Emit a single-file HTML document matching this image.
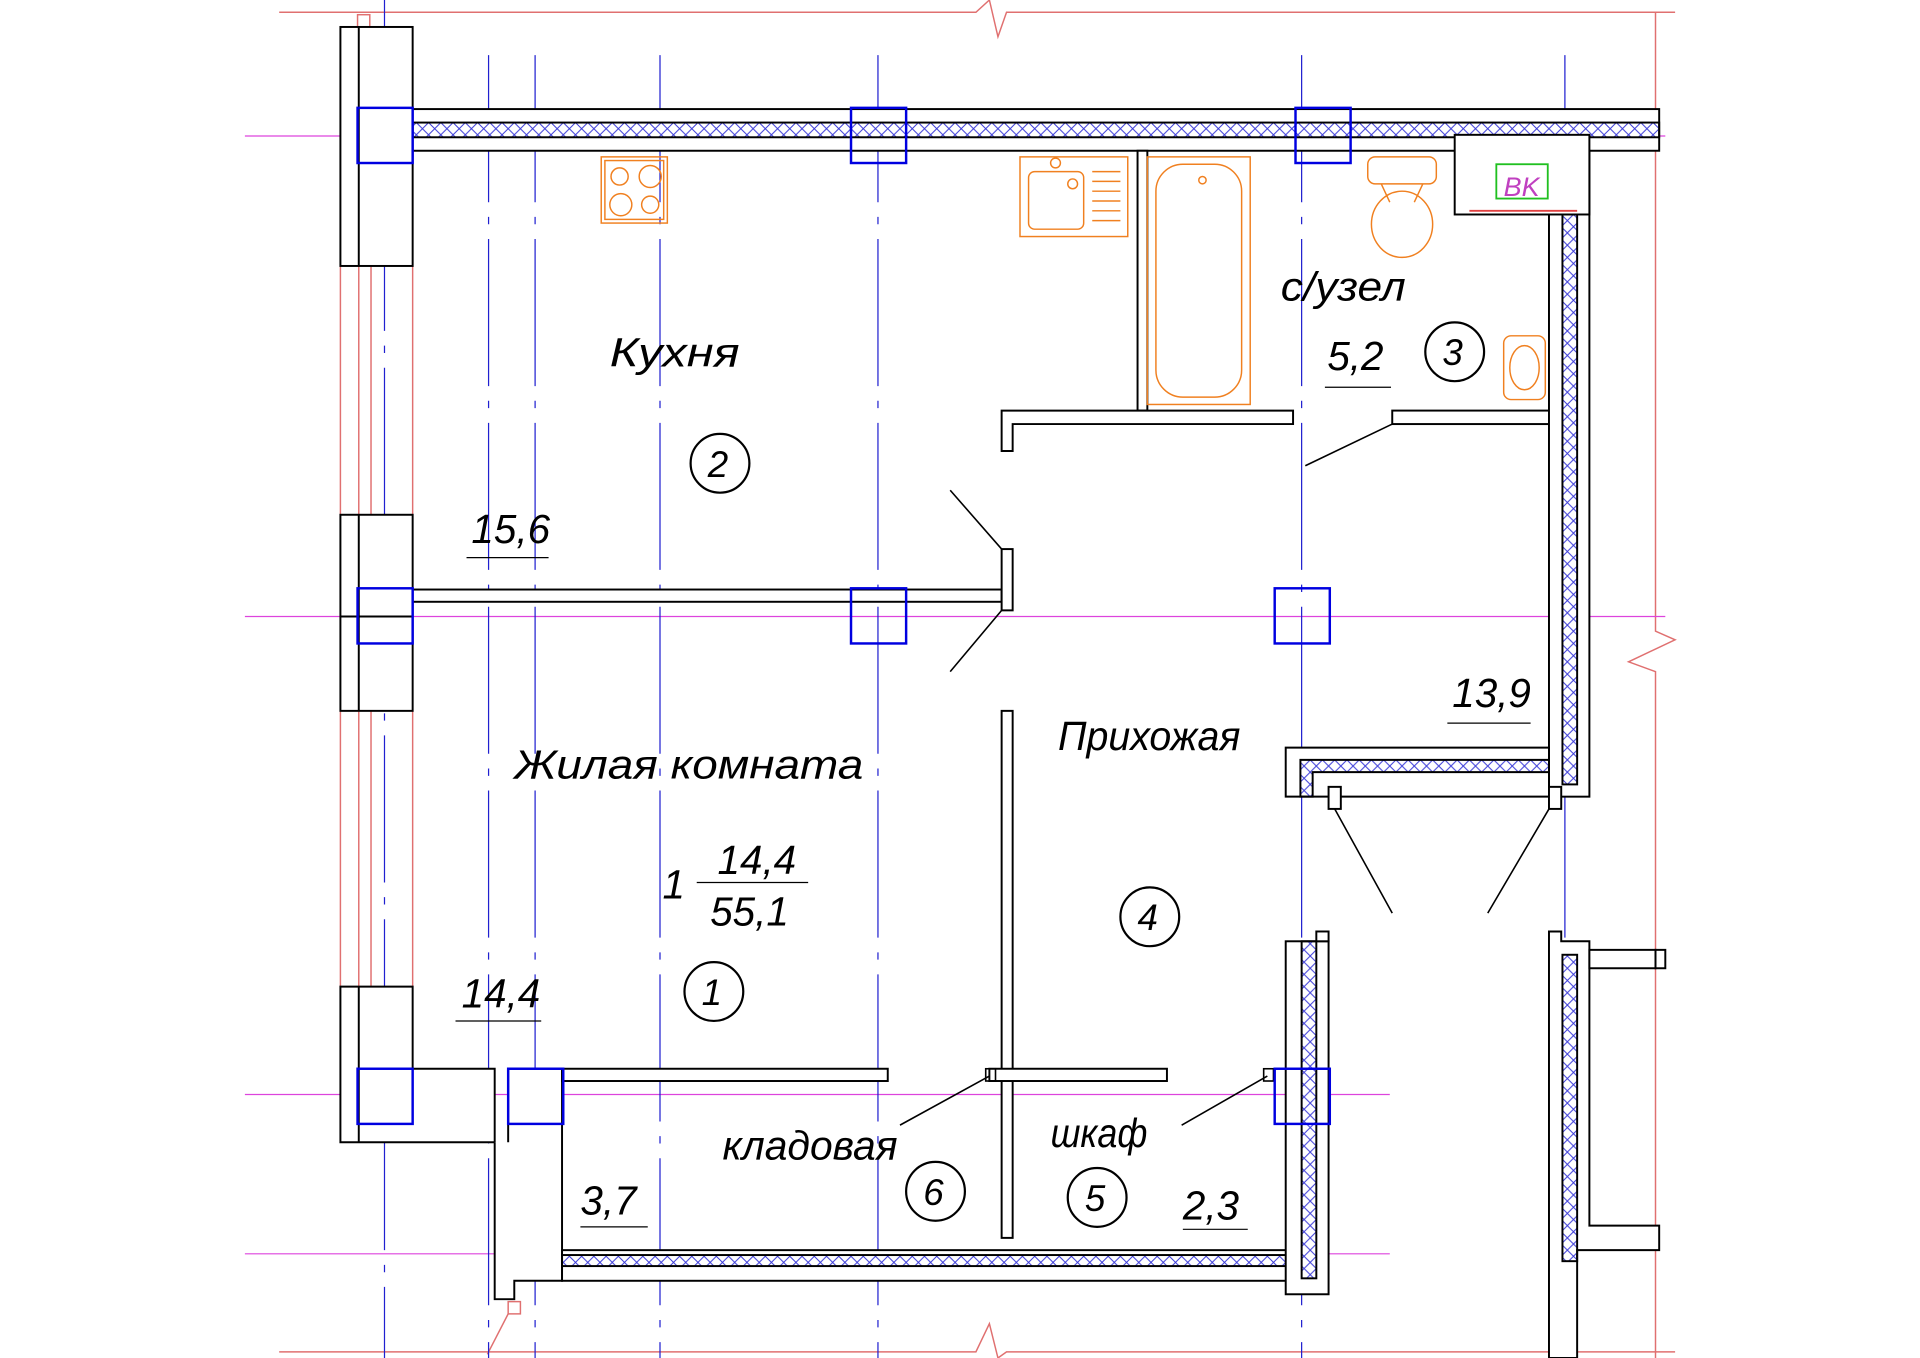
<!DOCTYPE html>
<html><head><meta charset="utf-8"><style>
html,body{margin:0;padding:0;background:#fff;}
svg{display:block;}
text{font-family:"Liberation Sans","DejaVu Sans",sans-serif;font-style:italic;fill:#000;}
</style></head><body>
<svg width="1920" height="1358" viewBox="0 0 1568 1108" preserveAspectRatio="none" xmlns="http://www.w3.org/2000/svg">
<defs>
<pattern id="h" width="10" height="10" patternUnits="userSpaceOnUse">
<path d="M0,0L10,10M10,0L0,10" stroke="#3a3ad8" stroke-width="0.8"/>
</pattern>
</defs>
<rect width="1568" height="1108" fill="#fff"/>
<g stroke="#e07070" stroke-width="1.2" fill="none">
<path d="M228,10H797L808,0L815,30L822,10H1368"/>
<path d="M1352,10V515L1368,522L1330,540L1352,548V1108"/>
<path d="M228,1103H797L808,1080L815,1108L822,1103H1368"/>
<path d="M278,217V420M293,217V420M303,217V420M337,217V420"/>
<path d="M278,580V805M293,580V805M303,580V805M337,580V805"/>
<rect x="292" y="12" width="10" height="10"/>
<rect x="415" y="1062" width="10" height="10"/>
<path d="M415,1072L398,1105"/>
</g>
<g stroke="#dd44dd" stroke-width="1">
<path d="M200,111H1360M200,503H1360M200,893H1135M200,1023H1135"/>
</g>
<g stroke="#2020d0" stroke-width="1" stroke-dasharray="120,12,6,12">
<path d="M314,0V1108M399,45V1108M437,45V1108M539,45V1108M717,45V1108M1063,45V1108M1278,45V1108"/>
</g>
<g stroke="#000" stroke-width="1.6" fill="#fff">
<rect x="278" y="22" width="59" height="195"/>
<path d="M293,22V217" fill="none"/>
<rect x="278" y="420" width="59" height="160"/>
<path d="M293,420V580M278,503H337" fill="none"/>
<path d="M278,805H337V872H404V932H278Z"/>
<path d="M293,805V932" fill="none"/>
<path d="M404,932V1060H420V1045H459V872H415V932" fill="#fff"/>
<rect x="337" y="89" width="1018" height="34"/>
<rect x="337" y="100" width="1018" height="12" fill="url(#h)"/>
<rect x="337" y="481" width="481" height="10"/>
<rect x="818" y="448" width="9" height="50"/>
<rect x="929" y="123" width="8" height="212"/>
<path d="M818,335H1056V346H827V368H818Z"/>
<rect x="1137" y="335" width="128" height="11"/>
<rect x="1265" y="123" width="33" height="527"/>
<rect x="1276" y="175" width="12" height="465" fill="url(#h)"/>
<rect x="1188" y="110" width="110" height="65"/>
<path d="M1050,610H1265V650H1050Z"/>
<path d="M1062,620H1265V630H1072V650H1062Z" fill="url(#h)"/>
<rect x="1085" y="642" width="10" height="18"/>
<rect x="1265" y="642" width="10" height="18"/>
<rect x="818" y="580" width="9" height="430"/>
<rect x="459" y="1020" width="596" height="25"/>
<rect x="459" y="1024" width="596" height="9" fill="url(#h)"/>
<rect x="1050" y="768" width="35" height="288"/>
<rect x="1063" y="768" width="12" height="275" fill="url(#h)"/>
<rect x="1075" y="760" width="10" height="8"/>
<rect x="459" y="872" width="266" height="10"/>
<rect x="808" y="872" width="145" height="10"/>
<path d="M1265,760H1275V768H1298V1000H1355V1020H1288V1108H1265Z"/>
<rect x="1276" y="779" width="12" height="250" fill="url(#h)"/>
<rect x="1298" y="775" width="54" height="15"/>
<rect x="1352" y="775" width="8" height="15"/>
</g>
<g stroke="#000" stroke-width="1.3" fill="none">
<path d="M818,448L776,400M818,498L776,548M1137,346L1066,380M1090,660L1137,745M1265,660L1215,745M808,878L735,918M1035,878L965,918"/>
<rect x="805" y="872" width="8" height="10"/><rect x="1032" y="872" width="8" height="10"/>
</g>
<g stroke="#0000e0" stroke-width="2" fill="none">
<rect x="292" y="88" width="45" height="45"/><rect x="695" y="88" width="45" height="45"/>
<rect x="1058" y="88" width="45" height="45"/><rect x="292" y="480" width="45" height="45"/>
<rect x="695" y="480" width="45" height="45"/><rect x="1041" y="480" width="45" height="45"/>
<rect x="292" y="872" width="45" height="45"/><rect x="415" y="872" width="45" height="45"/>
<rect x="1041" y="872" width="45" height="45"/>
</g>
<g stroke="#f08020" stroke-width="1.2" fill="none">
<rect x="491" y="128" width="54" height="54"/><rect x="494" y="131" width="48" height="48"/>
<circle cx="506" cy="144" r="7"/><circle cx="531" cy="144" r="9"/><circle cx="507" cy="167" r="9"/><circle cx="531" cy="167" r="7"/>
<rect x="833" y="128" width="88" height="65"/><rect x="840" y="140" width="45" height="47" rx="5"/>
<circle cx="862" cy="133" r="4"/><circle cx="876" cy="150" r="4"/>
<path d="M892,140H915M892,148H915M892,156H915M892,164H915M892,172H915M892,180H915"/>
<rect x="937" y="128" width="84" height="202"/><rect x="944" y="134" width="70" height="190" rx="22"/>
<circle cx="982" cy="147" r="3"/>
<rect x="1117" y="128" width="56" height="22" rx="6"/>
<path d="M1128,150L1135,165M1162,150L1155,165"/>
<ellipse cx="1145" cy="183" rx="25" ry="27"/>
<rect x="1228" y="274" width="34" height="52" rx="6"/><ellipse cx="1245" cy="300" rx="12" ry="18"/>
</g>
<path d="M1200,172H1288" stroke="#e04040" stroke-width="1.5"/>
<rect x="1222" y="134" width="42" height="28" fill="none" stroke="#20c020" stroke-width="1.5"/>
<text x="1228" y="160" font-size="22" style="fill:#c040c0">BK</text>
<g font-size="33">
<text x="498" y="299" textLength="106" lengthAdjust="spacingAndGlyphs">Кухня</text>
<text x="1046" y="245" textLength="102" lengthAdjust="spacingAndGlyphs">с/узел</text>
<text x="864" y="612" textLength="149" lengthAdjust="spacingAndGlyphs">Прихожая</text>
<text x="420" y="635" textLength="285" lengthAdjust="spacingAndGlyphs">Жилая комната</text>
<text x="590" y="946" textLength="143" lengthAdjust="spacingAndGlyphs">кладовая</text>
<text x="858" y="936" textLength="79" lengthAdjust="spacingAndGlyphs">шкаф</text>
<text x="385" y="443">15,6</text>
<text x="1084" y="302">5,2</text>
<text x="1186" y="577">13,9</text>
<text x="377" y="822">14,4</text>
<text x="474" y="991">3,7</text>
<text x="966" y="995">2,3</text>
<text x="586" y="713">14,4</text>
<text x="580" y="755">55,1</text>
<text x="541" y="733">1</text>
</g>
<g stroke="#000" stroke-width="1" fill="none">
<path d="M381,455H448M1082,316H1136M1182,590H1250M372,833H442M474,1001H529M966,1003H1019M569,720H660"/>
</g>
<g stroke="#000" stroke-width="1.8" fill="none">
<circle cx="588" cy="378" r="24"/><circle cx="1188" cy="287" r="24"/>
<circle cx="939" cy="748" r="24"/><circle cx="583" cy="809" r="24"/>
<circle cx="896" cy="977" r="24"/><circle cx="764" cy="972" r="24"/>
</g>
<g font-size="30">
<text x="578" y="389">2</text><text x="1178" y="298">3</text><text x="929" y="759">4</text>
<text x="573" y="820">1</text><text x="886" y="988">5</text><text x="754" y="983">6</text>
</g>
</svg>
</body></html>
